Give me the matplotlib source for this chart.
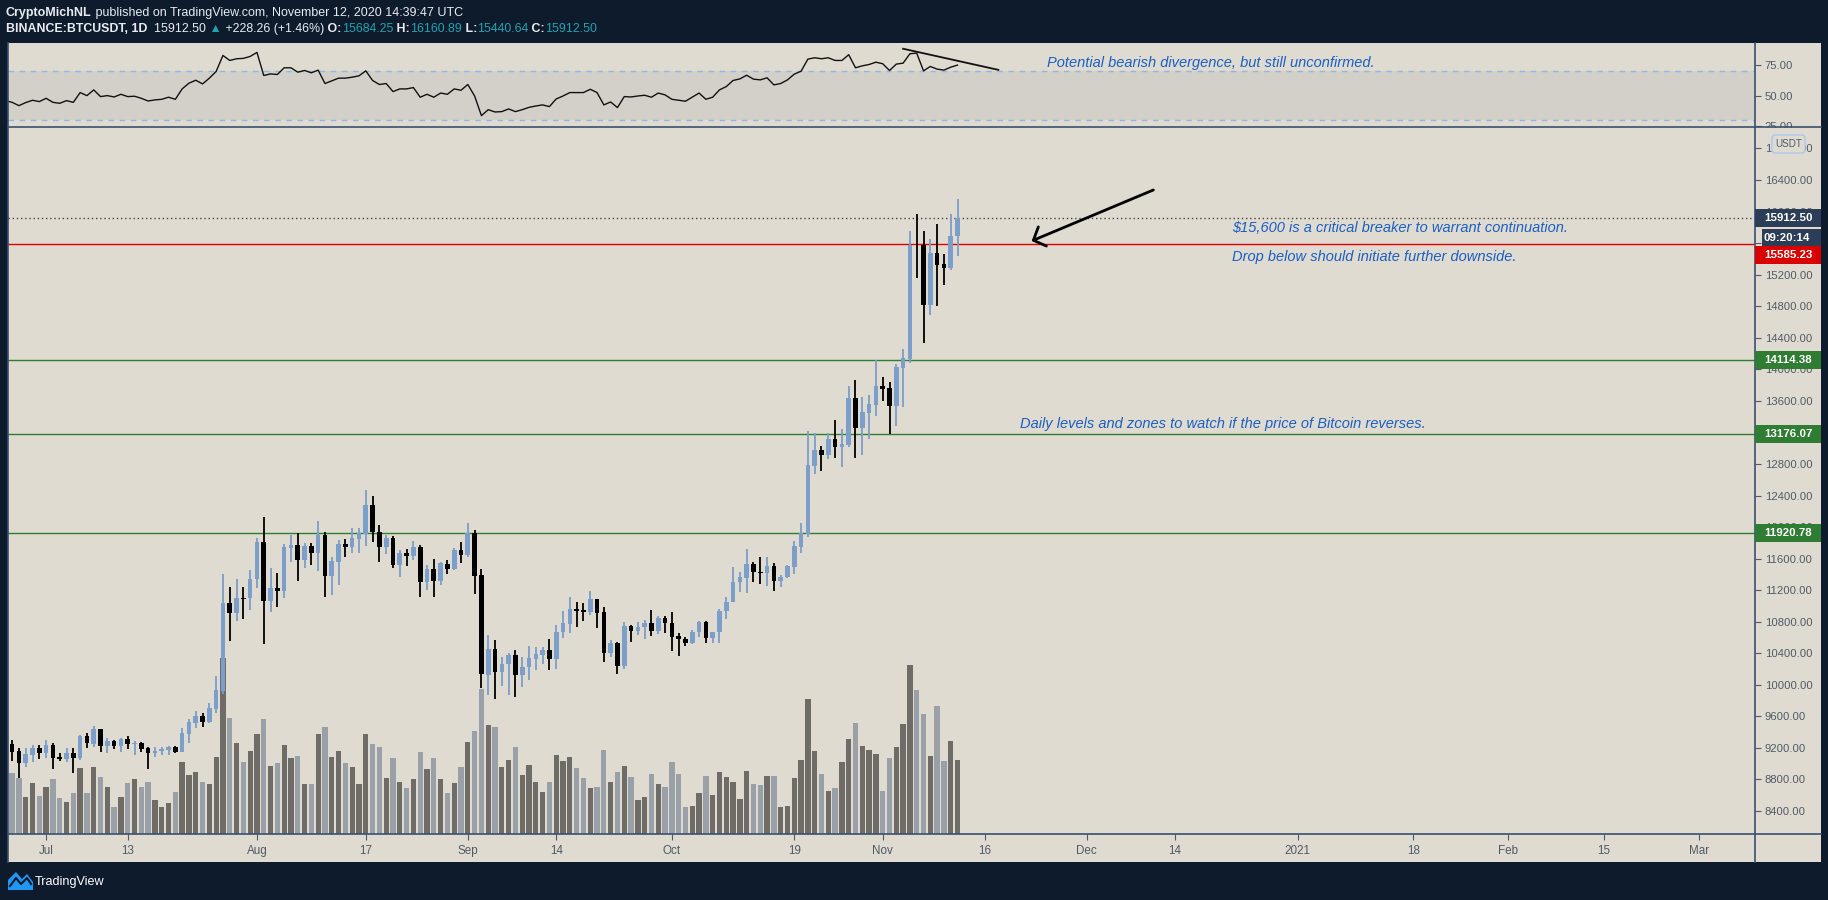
import datetime as dt
import numpy as np
import matplotlib
matplotlib.use("Agg")
import matplotlib.pyplot as plt
import matplotlib.transforms as mtransforms
from matplotlib import font_manager as fm
from matplotlib.patches import Rectangle, FancyBboxPatch, Polygon
from matplotlib.lines import Line2D

# ---------------------------------------------------------------- data
first_day = "2020-06-25"          # first (partly visible) daily candle

opens = [9300, 9246, 9161, 9013, 9110, 9203, 9140, 9237, 9090, 9056,
         9140, 9068, 9351, 9250, 9436, 9229, 9288, 9229, 9309, 9246,
         9267, 9203, 9132, 9161, 9175, 9216, 9153, 9377, 9520, 9605,
         9533, 9690, 9926, 11033, 10907, 11105, 11097, 11338, 11815, 11067,
         11232, 11194, 11739, 11773, 11583, 11760, 11676, 11900, 11380, 11562,
         11786, 11752, 11849, 11908, 12280, 11942, 11752, 11866, 11519, 11676,
         11634, 11752, 11308, 11465, 11317, 11532, 11465, 11710, 11646, 11921,
         11393, 10125, 10454, 10167, 10260, 10378, 10125, 10222, 10327, 10378,
         10442, 10328, 10666, 10771, 10961, 10949, 10928, 11088, 10919, 10408,
         10526, 10243, 10746, 10687, 10729, 10780, 10687, 10847, 10780, 10619,
         10581, 10535, 10666, 10793, 10598, 10666, 10936, 11046, 11300, 11359,
         11528, 11435, 11414, 11507, 11321, 11363, 11498, 11752, 11912, 12778,
         12977, 12914, 13116, 13019, 13040, 13632, 13260, 13450, 13547, 13788,
         13759, 13539, 14021, 14131, 15580, 15576, 14815, 15479, 15335, 15280,
         15684.25]
highs = [9320, 9301, 9195, 9195, 9237, 9237, 9301, 9267, 9132, 9195,
         9195, 9364, 9394, 9478, 9436, 9322, 9301, 9330, 9351, 9288,
         9280, 9216, 9216, 9216, 9224, 9224, 9449, 9563, 9668, 9647,
         9766, 10112, 11401, 11236, 11338, 11245, 11456, 11857, 12124, 11477,
         11422, 11781, 11900, 11921, 11794, 11802, 12081, 11942, 11625, 11836,
         11845, 11984, 11984, 12470, 12394, 12027, 11900, 11887, 11710, 11718,
         11824, 11773, 11519, 11591, 11562, 11583, 11731, 11815, 12056, 11963,
         11465, 10632, 10569, 10357, 10408, 10442, 10349, 10492, 10484, 10484,
         10577, 10759, 10936, 11109, 11055, 11033, 11194, 11088, 10991, 10569,
         10539, 10793, 10759, 10801, 10822, 10949, 10873, 10873, 10919, 10653,
         10602, 10695, 10814, 10814, 10674, 10957, 11118, 11490, 11435, 11722,
         11553, 11617, 11617, 11540, 11393, 11519, 11828, 12048, 13222, 13188,
         13028, 13188, 13357, 13243, 13788, 13864, 13645, 13674, 14114, 13898,
         13839, 14067, 14257, 15753, 15970, 15753, 15648, 15842, 15462, 15969,
         16160.89]
lows = [9200, 9039, 8823, 8954, 9026, 9056, 9077, 8937, 9039, 9026,
        8887, 9047, 9203, 9216, 9153, 9132, 9182, 9153, 9191, 9110,
        9153, 8937, 9090, 9110, 9110, 9132, 9153, 9258, 9449, 9461,
        9512, 9647, 9880, 10560, 10814, 10830, 10949, 11224, 10514, 10928,
        10991, 11097, 11562, 11321, 11477, 11519, 11447, 11118, 11139, 11266,
        11625, 11676, 11676, 11764, 11815, 11562, 11659, 11477, 11372, 11507,
        11583, 11118, 11203, 11118, 11266, 11405, 11456, 11549, 11625, 11152,
        9956, 9871, 9820, 9985, 9871, 9850, 9977, 10061, 10188, 10264,
        10188, 10201, 10598, 10653, 10738, 10814, 10886, 10725, 10294, 10349,
        10133, 10196, 10547, 10632, 10585, 10623, 10640, 10661, 10433, 10370,
        10497, 10514, 10611, 10526, 10535, 10526, 10830, 11046, 11181, 11169,
        11300, 11279, 11253, 11194, 11245, 11350, 11405, 11676, 11879, 12673,
        12715, 12863, 12880, 12766, 13019, 12880, 12914, 13112, 13408, 13602,
        13176, 13285, 13526, 14084, 15162, 14338, 14688, 14803, 15069, 15259,
        15440.64]
closes = [9237, 9153, 9013, 9123, 9195, 9140, 9237, 9077, 9056, 9132,
          9068, 9351, 9258, 9436, 9229, 9288, 9229, 9309, 9246, 9267,
          9191, 9132, 9161, 9182, 9216, 9153, 9385, 9533, 9605, 9533,
          9711, 9935, 11033, 10907, 11097, 11090, 11338, 11815, 11067, 11224,
          11194, 11752, 11773, 11583, 11760, 11676, 11900, 11380, 11574, 11786,
          11752, 11866, 11929, 12280, 11942, 11752, 11857, 11519, 11667, 11634,
          11752, 11308, 11465, 11317, 11541, 11465, 11710, 11646, 11921, 11380,
          10137, 10454, 10167, 10264, 10378, 10125, 10222, 10336, 10391, 10442,
          10328, 10666, 10780, 10957, 10940, 10928, 11088, 10915, 10408, 10526,
          10243, 10746, 10687, 10729, 10780, 10687, 10847, 10780, 10611, 10577,
          10535, 10666, 10793, 10598, 10666, 10936, 11046, 11300, 11363, 11528,
          11426, 11414, 11507, 11321, 11363, 11507, 11760, 11921, 12787, 12977,
          12914, 13116, 13019, 13053, 13632, 13260, 13455, 13560, 13788, 13755,
          13539, 14025, 14139, 15576, 15570, 14815, 15479, 15322, 15289, 15684.24,
          15912.50]
volumes = [50, 45.5, 41.8, 28, 38, 28.5, 35, 41, 26.8, 24.3,
           31, 49.3, 31, 50.5, 43, 35, 20.5, 28, 38.5, 41,
           35.5, 39.3, 25.5, 20.5, 23.5, 31.8, 54.3, 44, 46.8, 39.3,
           37.3, 58, 131.8, 86.8, 68.5, 54.3, 62.5, 75, 86.5, 51.3,
           53, 66.8, 56.8, 58.5, 37.5, 37.3, 75, 80.5, 58, 62.5,
           53.5, 50.5, 37.3, 75, 67.5, 65.5, 41.8, 57.3, 39.3, 34.3,
           41.3, 61.8, 48.5, 56.8, 41.3, 30.5, 38.5, 50, 69.3, 77.5,
           108.5, 81.8, 80, 50.5, 55.5, 65.5, 44.3, 51.8, 39, 31.5,
           39, 59.3, 54.8, 58, 49.8, 42, 34.5, 35.5, 63, 39,
           46.5, 51, 43, 25.5, 27.8, 45, 37.5, 35.5, 54, 45,
           20.5, 21, 31, 43.5, 29.5, 46.5, 43, 39, 26.3, 47.3,
           37.5, 36.8, 43.5, 43.5, 20.5, 21, 42.3, 55.5, 101.3, 62.3,
           45, 32.3, 34.5, 54, 71.3, 83.3, 66, 63, 60, 32.3,
           57, 65.3, 82.5, 126.8, 108, 90, 58.5, 96, 54.8, 69.8,
           55.5]
rsi = [45.9, 44.5, 41.8, 44.3, 46.2, 45.1, 47.8, 44.5, 43.7, 45.9,
       44.5, 52.5, 50.0, 54.7, 49.2, 50.0, 48.9, 51.1, 49.2, 49.5,
       47.8, 45.6, 46.5, 47.0, 48.7, 47.0, 55.5, 60.2, 62.6, 59.6,
       64.3, 69.8, 82.9, 78.8, 80.2, 80.5, 82.1, 85.4, 66.5, 67.8,
       67.3, 72.8, 72.8, 69.2, 70.6, 68.7, 70.9, 59.9, 62.1, 64.3,
       64.3, 65.1, 66.2, 70.3, 62.4, 59.1, 59.9, 53.3, 55.5, 55.5,
       56.6, 48.7, 51.1, 48.7, 52.1, 51.1, 55.5, 54.4, 59.1, 49.7,
       33.6, 38.5, 36.6, 36.9, 39.1, 36.9, 38.5, 40.4, 41.5, 42.4,
       41.0, 47.3, 49.7, 52.5, 52.5, 52.5, 55.2, 52.5, 42.4, 44.8,
       40.2, 49.2, 48.9, 49.7, 50.3, 48.7, 52.1, 50.6, 47.0, 46.2,
       45.4, 48.7, 52.1, 47.0, 48.7, 54.7, 57.4, 62.4, 63.7, 66.7,
       63.5, 62.9, 64.6, 58.8, 59.9, 62.9, 67.6, 70.0, 79.9, 81.0,
       80.2, 81.0, 78.8, 78.8, 83.5, 72.8, 74.4, 75.5, 77.4, 76.1,
       70.6, 75.8, 76.6, 84.3, 84.8, 70.3, 73.9, 71.7, 70.9, 73.3,
       75.0]

level_lines = [15585.23, 14114.38, 13176.07, 11920.78]
level_colors = ["#e00000", "#2e7d32", "#2e7d32", "#2e7d32"]
countdown = "09:20:14"

price_ticks = list(range(8400, 16801, 400))
rsi_ticks = [25, 50, 75]
rsi_bands = [30, 70]
date_ticks = ["2020-07-01", "2020-07-13", "2020-08-01", "2020-08-17", "2020-09-01",
              "2020-09-14", "2020-10-01", "2020-10-19", "2020-11-01", "2020-11-16",
              "2020-12-01", "2020-12-14", "2021-01-01", "2021-01-18", "2021-02-01",
              "2021-02-15", "2021-03-01"]
date_labels = ["Jul", "13", "Aug", "17", "Sep", "14", "Oct", "19", "Nov", "16",
               "Dec", "14", "2021", "18", "Feb", "15", "Mar"]
view_start, view_end = "2020-06-25 09:30", "2021-03-09 06:00"
price_view = (8109, 17072)
rsi_view = (24.3, 93.1)

# drawn annotations (days since 2020-07-01, values)
diverg_days, diverg_rsi = [126, 140], [88.4, 71.1]
arrow_from, arrow_to = (162.8, 16274), (144.9, 15627)
notes = [("Potential bearish divergence, but still unconfirmed.", "rsi", 147.2, 77.1),
         ("$15,600 is a critical breaker to warrant continuation.", "price", 174.3, 15792),
         ("Drop below should initiate further downside.", "price", 174.3, 15428),
         ("Daily levels and zones to watch if the price of Bitcoin reverses.", "price", 143.2, 13301)]

# ---------------------------------------------------------------- style
avail = list(fm.fontManager.ttflist)
names = {f.name for f in avail}
if "Liberation Sans Narrow" in names:
    AXFONT = "Liberation Sans Narrow"
else:
    AXFONT = "Liberation Sans"
plt.rcParams["font.family"] = [AXFONT, "DejaVu Sans"]

NAVY = "#0d1b2d"
PANE = "#e0dbd1"
BAND = "#d3d0c9"
SEP = "#3a5070"
UP, DOWN = "#7b9ecb", "#000000"
VOL_UP, VOL_DOWN = "#6f6b67", "#9aa0a8"
LAB = "#4f5a66"
TEAL = "#22a3b0"
NOTE = "#1a5fc2"
WHITE = "#e8ebf0"

W, H = 1828, 900
L, RP, RA = 8, 1755, 1821
T_RSI, B_RSI, B_PRICE, B_DATE = 43, 127, 834, 862

fig = plt.figure(figsize=(W / 100, H / 100), dpi=100, facecolor=NAVY)
PX = mtransforms.IdentityTransform()
renderer = fig.canvas.get_renderer()


def fit_size(s, target_px, **kw):
    t = fig.text(0, 0, s, fontsize=10, **kw)
    w = t.get_window_extent(renderer=renderer).width
    t.remove()
    return 10.0 * target_px / w


AX_SIZE = min(fit_size("16400.00", 47, family=[AXFONT, "DejaVu Sans"]), 10.0)
BADGE_SIZE = min(fit_size("15912.50", 48, family=[AXFONT, "DejaVu Sans"], fontweight="bold"), 10.0)
NOTE_FAM = ["Liberation Sans", "DejaVu Sans"]
NOTE_SIZE = fit_size(notes[1][0], 337, family=NOTE_FAM, fontstyle="italic")


def rect_px(x0, y0, x1, y1):
    return [x0 / W, 1 - y1 / H, (x1 - x0) / W, (y1 - y0) / H]


# whole chart frame
fig.patches.append(Rectangle((L, H - B_DATE), RA - L, B_DATE - T_RSI, transform=PX,
                             facecolor=PANE, edgecolor="none", zorder=-5))

d0 = dt.date(2020, 7, 1)
start = dt.date.fromisoformat(first_day)
x = np.array([(start - d0).days + i for i in range(len(closes))], dtype=float)
o, h_, l_, c = map(np.asarray, (opens, highs, lows, closes))
up = c >= o


def to_day(s):
    t = dt.datetime.fromisoformat(s)
    return (t - dt.datetime(2020, 7, 1)).total_seconds() / 86400.0


xlim = (to_day(view_start), to_day(view_end))

# ---------------------------------------------------------------- RSI pane
ax_r = fig.add_axes(rect_px(L, T_RSI, RP, B_RSI), label="rsi", zorder=0)
ax_r.set_facecolor(PANE)
ax_r.axhspan(rsi_bands[0], rsi_bands[1], color=BAND, lw=0, zorder=0)
for b in rsi_bands:
    ax_r.axhline(b, color="#93b7e0", lw=1, ls=(0, (4, 4)), zorder=1)
ax_r.plot(x, rsi, color="#111111", lw=1.0, zorder=3)
ax_r.plot(diverg_days, diverg_rsi, color="#111111", lw=1.3, zorder=3)
ax_r.set_xlim(*xlim)
ax_r.set_ylim(*rsi_view)
ax_r.set_xticks([])
ax_r.yaxis.tick_right()
ax_r.set_yticks(rsi_ticks)
ax_r.set_yticklabels([f"{v:.2f}" for v in rsi_ticks])
ax_r.tick_params(axis="y", length=4, width=0.8, color=LAB, pad=3, labelsize=AX_SIZE, labelcolor=LAB)
for s in ax_r.spines.values():
    s.set_visible(False)

# mask so the cut "25.00" label looks clipped by the pane border
fig.patches.append(Rectangle((RP + 1, H - B_PRICE), RA - RP - 1, B_PRICE - B_RSI - 0.5,
                             transform=PX, facecolor=PANE, edgecolor="none", zorder=0.5))

# ---------------------------------------------------------------- volume + price pane
ax_v = fig.add_axes(rect_px(L, B_RSI, RP, B_PRICE), label="vol", zorder=1)
ax_v.set_facecolor(PANE)
ax_v.bar(x, volumes, width=0.78, color=np.where(up, VOL_UP, VOL_DOWN), linewidth=0)
ax_v.set_xlim(*xlim)
ax_v.set_ylim(0, 530)
ax_v.set_xticks([])
ax_v.set_yticks([])
for s in ax_v.spines.values():
    s.set_visible(False)

ax_p = fig.add_axes(rect_px(L, B_RSI, RP, B_PRICE), label="price", zorder=2)
ax_p.patch.set_visible(False)
for lv, col in zip(level_lines, level_colors):
    ax_p.axhline(lv, color=col, lw=1.0, zorder=2)
ax_p.axhline(closes[-1], color="#444444", lw=1.0, ls=(0, (1, 2)), zorder=2)

cols = np.where(up, UP, DOWN)
ax_p.vlines(x, l_, h_, colors=cols, linewidth=1.3, zorder=3)
ax_p.bar(x, np.maximum(np.abs(c - o), 12), bottom=np.minimum(o, c), width=0.68,
         color=cols, linewidth=0, zorder=4)

ax_p.set_xlim(*xlim)
ax_p.set_ylim(*price_view)
ax_p.yaxis.tick_right()
ax_p.set_yticks(price_ticks)
ax_p.set_yticklabels([f"{v:.2f}" for v in price_ticks])
ax_p.tick_params(axis="y", length=4, width=0.8, color=LAB, pad=3, labelsize=AX_SIZE, labelcolor=LAB)
ax_p.set_xticks([to_day(s) for s in date_ticks])
ax_p.set_xticklabels(date_labels)
ax_p.tick_params(axis="x", length=4, width=0.8, color=LAB, pad=4, labelsize=AX_SIZE + 0.3, labelcolor=LAB)
for s in ax_p.spines.values():
    s.set_visible(False)

# notes and arrow
for txt, pane, nx, ny in notes:
    axn = ax_r if pane == "rsi" else ax_p
    axn.text(nx, ny, txt, color=NOTE, fontstyle="italic", family=NOTE_FAM,
             fontsize=NOTE_SIZE, ha="left", va="center", zorder=6)
ax_p.annotate("", xy=arrow_to, xytext=arrow_from,
              arrowprops=dict(arrowstyle="->,head_length=0.7,head_width=0.75", color="black",
                              lw=2.0, shrinkA=0, shrinkB=0), zorder=6)

# ---------------------------------------------------------------- separators
for (xa, ya, xb, yb) in [(RP, T_RSI, RP, B_DATE), (L, B_RSI, RA, B_RSI), (L, B_PRICE, RA, B_PRICE),
                         (L, T_RSI, L, B_DATE)]:
    fig.add_artist(Line2D([xa, xb], [H - ya, H - yb], transform=PX, color=SEP, lw=1.2, zorder=8))


# ---------------------------------------------------------------- price badges
def price_to_py(p):
    return H - ax_p.transData.transform((0, p))[1]


def badge(py, text, face, x0=RP, hgt=18):
    fig.patches.append(Rectangle((x0, H - py - hgt / 2), RA - x0, hgt, transform=PX,
                                 facecolor=face, edgecolor="none", zorder=20))
    fig.text(1764 / W, 1 - py / H, text, color="white", fontweight="bold", fontsize=BADGE_SIZE,
             ha="left", va="center", zorder=21)


py_last = price_to_py(closes[-1])
badge(py_last, f"{closes[-1]:.2f}", "#2c3e57")
badge(py_last + 19.5, countdown, "#2c3e57", x0=1762, hgt=17)
badge(max(price_to_py(level_lines[0]), py_last + 37), f"{level_lines[0]:.2f}", "#d90000")
for lv in level_lines[1:]:
    badge(price_to_py(lv), f"{lv:.2f}", "#2e7d32")

# USDT currency box
fig.patches.append(FancyBboxPatch((1772, H - 153), 33, 18, boxstyle="round,pad=0,rounding_size=3",
                                  transform=PX, facecolor=PANE, edgecolor="#a9c7ee", lw=1.0, zorder=20))
fig.text(1788.5 / W, 1 - 144 / H, "USDT", color=LAB, fontsize=fit_size("USDT", 27), ha="center",
         va="center", zorder=21)


# ---------------------------------------------------------------- header
def seq_text(x0, py, pieces, target_end, family="Liberation Sans"):
    fam = [family, "DejaVu Sans"]
    total = 0.0
    for s, col, wt in pieces:
        t = fig.text(0, 0, s, fontweight=wt, fontsize=10, family=fam)
        total += t.get_window_extent(renderer=renderer).width
        t.remove()
    size = 10.0 * (target_end - x0) / total
    xx = x0
    for s, col, wt in pieces:
        t = fig.text(xx / W, 1 - py / H, s, color=col, fontweight=wt, fontsize=size,
                     family=fam, ha="left", va="center")
        xx += t.get_window_extent(renderer=renderer).width


chg = closes[-1] - closes[-2]
pct = chg / closes[-2] * 100
seq_text(6, 13.3, [("CryptoMichNL", WHITE, "bold"),
                   (" published on TradingView.com, November 12, 2020 14:39:47 UTC", WHITE, "normal")],
         462)
seq_text(6, 29.3, [("BINANCE:BTCUSDT, 1D", WHITE, "bold"),
                   (f"  {closes[-1]:.2f}", WHITE, "normal"),
                   (" \u25B2", TEAL, "normal"),
                   (f" {chg:+.2f} ({pct:+.2f}%)", WHITE, "normal"),
                   (" O:", WHITE, "bold"), (f"{opens[-1]:.2f}", TEAL, "normal"),
                   (" H:", WHITE, "bold"), (f"{highs[-1]:.2f}", TEAL, "normal"),
                   (" L:", WHITE, "bold"), (f"{lows[-1]:.2f}", TEAL, "normal"),
                   (" C:", WHITE, "bold"), (f"{closes[-1]:.2f}", TEAL, "normal")],
         593)

# ---------------------------------------------------------------- footer logo
fig.patches.append(Polygon([(8, H - 890), (8, H - 880), (16, H - 872), (22, H - 879), (27, H - 874),
                            (33, H - 882), (33, H - 890)], closed=True, transform=PX,
                           facecolor="#2196f3", edgecolor="none"))
fig.add_artist(Line2D([10, 16, 21, 27, 31], [H - 886, H - 878, H - 884, H - 878, H - 884],
                      transform=PX, color=NAVY, lw=1.5))
fig.text(35 / W, 1 - 882 / H, "TradingView", color="white",
         fontsize=fit_size("TradingView", 70), ha="left", va="center")

fig.savefig("out.png", dpi=100, facecolor=NAVY)
